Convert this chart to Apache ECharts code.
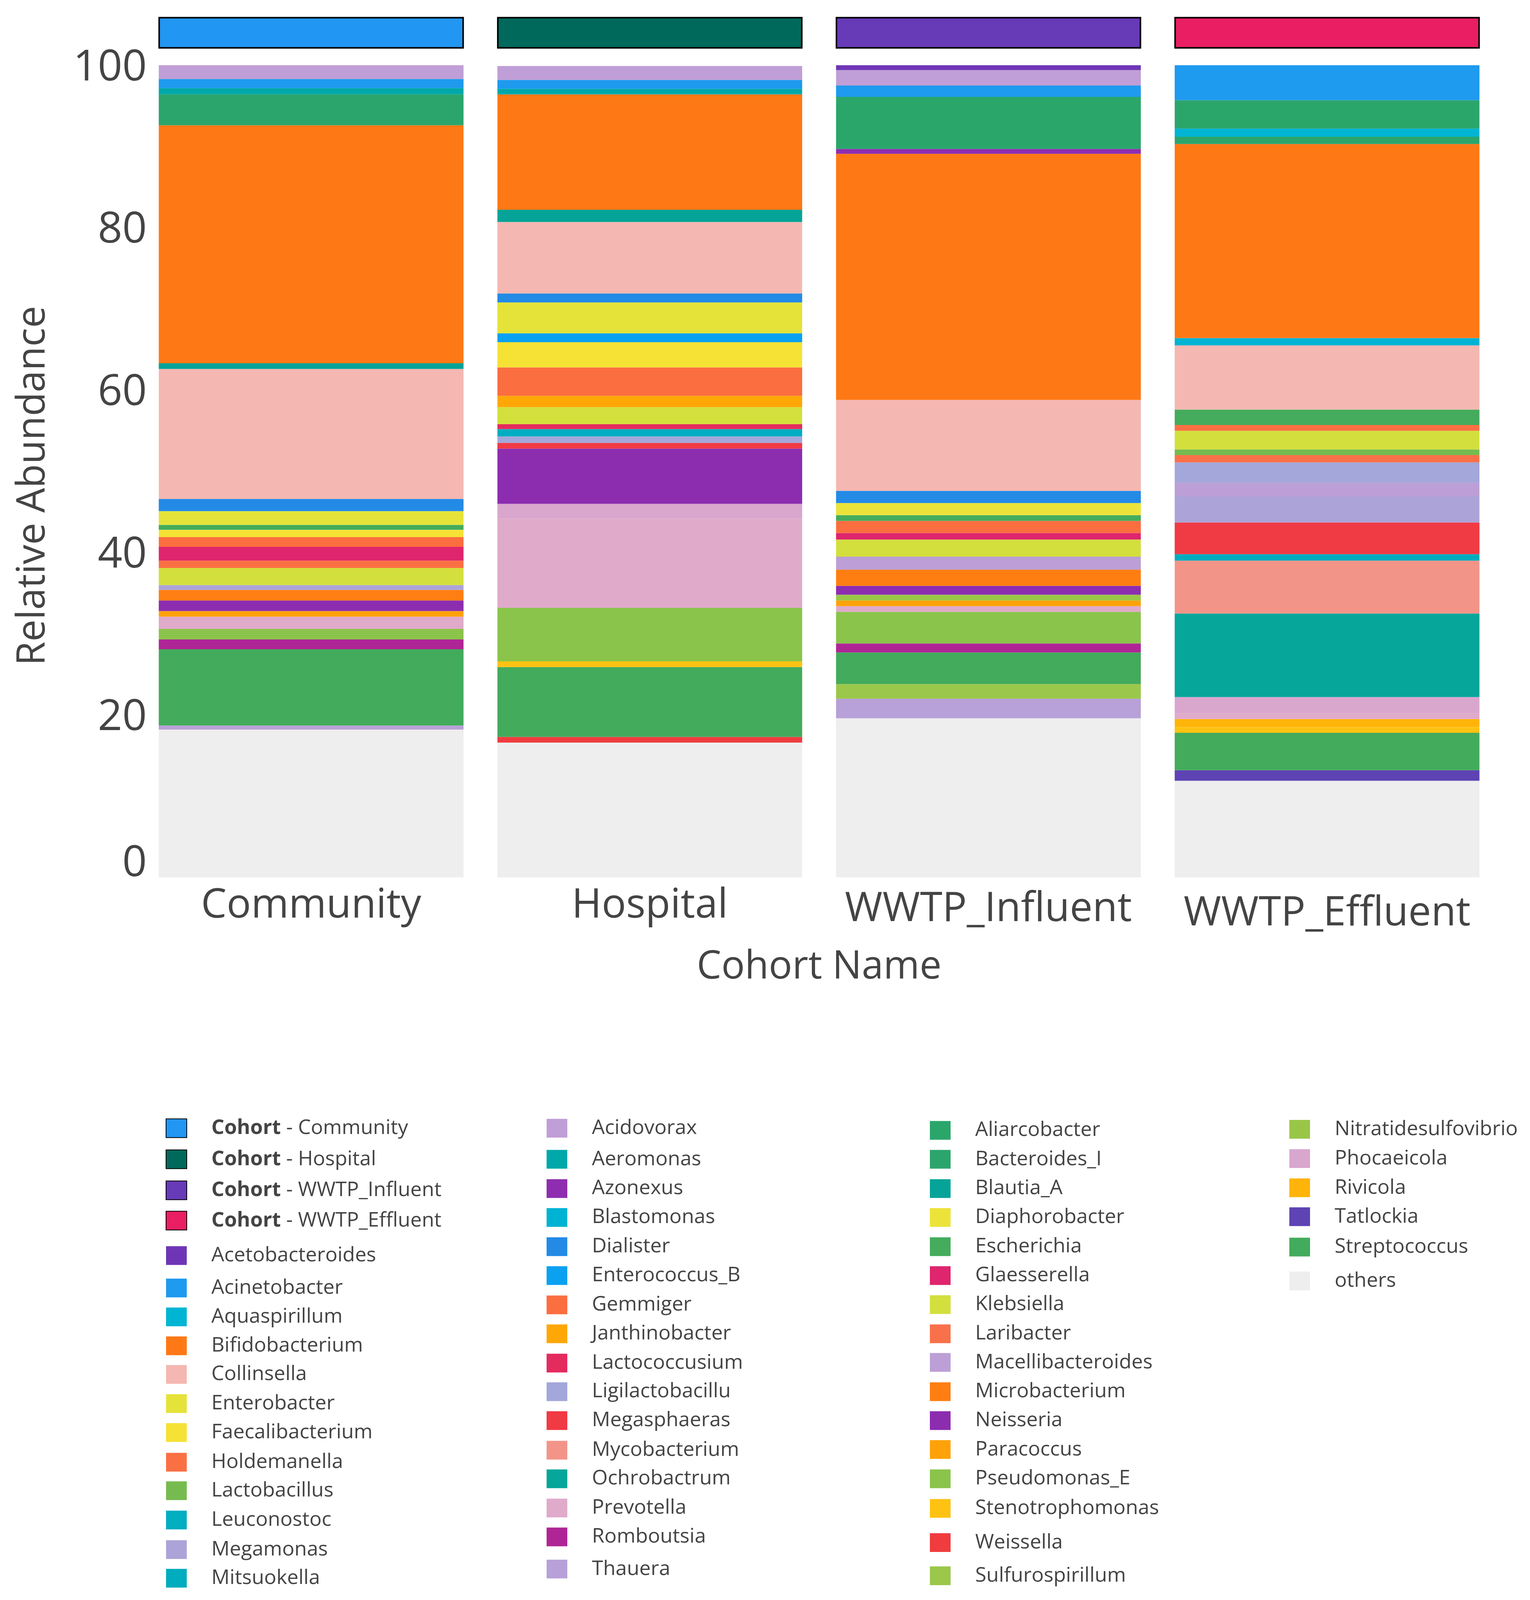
<!DOCTYPE html>
<html>
<head>
<meta charset="utf-8">
<script src="https://cdn.jsdelivr.net/npm/echarts@6/dist/echarts.min.js"></script>
<style>
html,body{margin:0;padding:0;background:#fff;overflow:hidden;}
#c{width:3916px;height:4537px;}
</style>
</head>
<body>
<div id="c"></div>
<script>
// ---------- data ----------
const cohorts = ['Community', 'Hospital', 'WWTP_Influent', 'WWTP_Effluent'];
const cohortColors = ['#2196F3', '#00695C', '#673AB7', '#E91E63'];

const genera = ['Acetobacteroides','Acidovorax','Acinetobacter','Aeromonas','Aliarcobacter','Aquaspirillum','Azonexus','Bacteroides_I','Bifidobacterium','Blastomonas','Blautia_A','Collinsella','Dialister','Diaphorobacter','Enterobacter','Enterococcus_B','Escherichia','Faecalibacterium','Gemmiger','Glaesserella','Holdemanella','Janthinobacter','Klebsiella','Lactobacillus','Lactococcusium','Laribacter','Leuconostoc','Ligilactobacillu','Macellibacteroides','Megamonas','Megasphaeras','Microbacterium','Mitsuokella','Mycobacterium','Neisseria','Nitratidesulfovibrio','Ochrobactrum','Paracoccus','Phocaeicola','Prevotella','Pseudomonas_E','Rivicola','Romboutsia','Stenotrophomonas','Streptococcus','Sulfurospirillum','Tatlockia','Thauera','Weissella','others'];

const genusColors = ['#6E36B6','#C09ED7','#1E9AEE','#00A8AA','#2BA66B','#00B4D4','#8E2DB0','#2CA56C','#FF7816','#00B3D3','#06A398','#F5B7B1','#238AE6','#ECE33A','#E5E339','#0AA1F1','#44AC5C','#F6E234','#FB6E3F','#DE256D','#FB7043','#FFA707','#D3DF3D','#76BB50','#E42B5E','#F9714A','#00ADC1','#A3A7DA','#BC9FD6','#ACA4D8','#F03A44','#FF7E12','#00ACBE','#F39489','#8C2DB0','#9AC648','#06A69A','#FFA20A','#D9A6CD','#E0AACB','#8AC44B','#FFB40A','#B02596','#FEC213','#43AB5C','#9BC74A','#5E43B4','#B8A0D8','#F03C3F','#EEEEEE'];

// relative abundance (%) per genus, in the order of `genera`
const community = [0,1.8,1.1,0.8,0,0,0,3.8,29.3,0,0.7,16.0,1.5,0,1.7,0,0.6,0.9,1.2,1.7,0.9,0,2.1,0,0,0,0,0,0,0.6,0,1.3,0,0,1.3,0,0,0.7,0,1.5,1.3,0,1.2,0,9.4,0,0,0.5,0,18.2];
const hospital  = [0,1.7,1.1,0.7,0,0,0,0,14.2,0,1.5,8.8,1.1,0,3.8,1.1,0,3.1,3.5,0,0,1.4,2.1,0,0.6,0,0.9,0.8,0,0,0.7,0,0,0,6.8,0,0,0,1.8,11.0,6.6,0,0,0.7,8.6,0,0,0,0.7,16.6];
const influent  = [0.7,1.9,1.4,0,6.4,0,0.6,0,30.3,0,0,11.2,1.5,1.5,0,0,0.7,0,1.5,0.8,0,0,2.1,0,0,0,0,0,1.6,0,0,2.0,0,0,1.1,0.7,0,0.7,0,0.7,3.9,0,1.1,0,3.9,1.8,0,2.4,0,19.6];
const effluent  = [0,0,4.5,0,3.5,1.0,0,0.9,23.9,0.9,0,7.9,0,0,0,0,1.9,0,0,0,0.7,0,2.3,0.7,0,0.9,0,2.5,1.7,3.2,3.9,0,0.8,6.5,0,0,10.3,0,2.0,0.7,0,1.0,0,0.7,4.6,0,1.3,0,0,11.9];

const yTickValues = [0, 20, 40, 60, 80, 100];

// legend columns (names)
const legendCohorts = cohorts.map(c => 'Cohort - ' + c);
const legendCol1 = ['Acetobacteroides','Acinetobacter','Aquaspirillum','Bifidobacterium','Collinsella','Enterobacter','Faecalibacterium','Holdemanella','Lactobacillus','Leuconostoc','Megamonas','Mitsuokella'];
const legendCol2 = ['Acidovorax','Aeromonas','Azonexus','Blastomonas','Dialister','Enterococcus_B','Gemmiger','Janthinobacter','Lactococcusium','Ligilactobacillu','Megasphaeras','Mycobacterium','Ochrobactrum','Prevotella','Romboutsia','Thauera'];
const legendCol3 = ['Aliarcobacter','Bacteroides_I','Blautia_A','Diaphorobacter','Escherichia','Glaesserella','Klebsiella','Laribacter','Macellibacteroides','Microbacterium','Neisseria','Paracoccus','Pseudomonas_E','Stenotrophomonas','Weissella','Sulfurospirillum'];
const legendCol4 = ['Nitratidesulfovibrio','Phocaeicola','Rivicola','Tatlockia','Streptococcus','others'];

// ---------- layout (design coordinates, 3916 x 4537) ----------
const legendLayout = [
  {names: legendCohorts, left: 424, rows: [3197, 3285, 3373, 3459], cohort: true},
  {names: legendCol1, left: 425, rows: [3558, 3650, 3732, 3814, 3895, 3978, 4060, 4144, 4225, 4308, 4392, 4473]},
  {names: legendCol2, left: 1399, rows: [3197, 3285, 3368, 3450, 3533, 3615, 3698, 3780, 3863, 3944, 4026, 4110, 4191, 4274, 4356, 4447]},
  {names: legendCol3, left: 2380, rows: [3203, 3285, 3368, 3450, 3533, 3615, 3697, 3780, 3861, 3944, 4026, 4108, 4191, 4275, 4372, 4466]},
  {names: legendCol4, left: 3300, rows: [3200, 3283, 3366, 3448, 3534, 3630]}
];

// ---------- chart ----------
const W = 3916;
const H = Math.min(4537, window.innerHeight || 4537);
const s = H / 4537;               // vertical scale to the real viewport
const Y = v => v * s;
const el = document.getElementById('c');
el.style.height = H + 'px';

const FONT = '"Open Sans", "Noto Sans", sans-serif';
const TXT = '#444444';
const chart = echarts.init(el, null, {renderer: 'canvas', width: W, height: H});

const values = [community, hospital, influent, effluent];
const stackOrder = ['others'].concat(genera.filter(g => g !== 'others').reverse());

const mainSeries = stackOrder.map(name => {
  const k = genera.indexOf(name);
  return {
    name: name, type: 'bar', stack: 'abund', barWidth: 780,
    xAxisIndex: 0, yAxisIndex: 0,
    itemStyle: {color: genusColors[k]},
    emphasis: {disabled: true},
    data: values.map(v => (v[k] > 0 ? v[k] : '-'))
  };
});

const stripSeries = cohorts.map((c, i) => ({
  name: 'Cohort - ' + c, type: 'bar', stack: 'strip', barWidth: 782,
  xAxisIndex: 1, yAxisIndex: 1,
  itemStyle: {color: cohortColors[i], borderColor: '#000000', borderWidth: 4},
  emphasis: {disabled: true},
  data: cohorts.map((cc, j) => (j === i ? 1 : '-'))
}));

const ICON = 53;
const LFS = 52;
const IH = Math.round(Y(ICON));
const LH = IH;
const legends = [];
legendLayout.forEach(col => {
  col.names.forEach((name, r) => {
    const lg = {
      orient: 'vertical', left: col.left, top: Y(col.rows[r]) - IH / 2,
      padding: 0, itemWidth: ICON, itemHeight: IH, itemGap: 0,
      icon: 'rect', selectedMode: false,
      data: [name],
      textStyle: {fontSize: LFS, lineHeight: LH, color: TXT, fontFamily: FONT, padding: [0, 0, 0, 58]}
    };
    if (col.cohort) {
      lg.formatter = n => '{b|Cohort}{n|' + n.slice(6) + '}';
      lg.textStyle.rich = {
        b: {fontSize: LFS, lineHeight: LH, color: TXT, fontFamily: FONT, fontWeight: 'bold'},
        n: {fontSize: LFS, lineHeight: LH, color: TXT, fontFamily: FONT}
      };
    }
    legends.push(lg);
  });
});

const option = {
  animation: false,
  backgroundColor: '#ffffff',
  textStyle: {fontFamily: FONT},
  grid: [
    {left: 363, top: Y(185), width: 3467, height: Y(2303)},
    {left: 363, top: Y(48), width: 3467, height: Y(90)}
  ],
  xAxis: [
    {
      type: 'category', gridIndex: 0, data: cohorts,
      axisLine: {show: false}, axisTick: {show: false}, splitLine: {show: false},
      axisLabel: {
        interval: 0, hideOverlap: false,
        margin: Y(23), color: TXT, fontFamily: FONT, fontSize: 104,
        formatter: (v, i) => '{c' + i + '|' + v + '}',
        rich: {
          c0: {fontSize: 104, color: TXT, fontFamily: FONT, lineHeight: 104},
          c1: {fontSize: 104, color: TXT, fontFamily: FONT, lineHeight: 104},
          c2: {fontSize: 104, color: TXT, fontFamily: FONT, lineHeight: 104 + Y(20)},
          c3: {fontSize: 104, color: TXT, fontFamily: FONT, lineHeight: 104 + Y(46)}
        }
      },
      name: 'Cohort Name', nameLocation: 'middle', nameGap: Y(200),
      nameTextStyle: {fontSize: 100, color: TXT, fontFamily: FONT}
    },
    {
      type: 'category', gridIndex: 1, data: cohorts, show: false
    }
  ],
  yAxis: [
    {
      type: 'value', gridIndex: 0, min: 0, max: 100, interval: 20, offset: -43,
      axisLine: {show: false}, axisTick: {show: false}, splitLine: {show: false},
      axisLabel: {
        margin: 30, color: TXT, fontFamily: FONT, fontSize: 110,
        formatter: v => (yTickValues.indexOf(v) === 0 ? '{z|' + v + '}' : '{n|' + v + '}'),
        rich: {
          z: {fontSize: 110, color: TXT, fontFamily: FONT, padding: [0, 0, Y(76), 0]},
          n: {fontSize: 110, color: TXT, fontFamily: FONT, padding: [Y(16), 0, 0, 0]}
        }
      },
      name: 'Relative Abundance', nameLocation: 'middle', nameGap: 270, nameRotate: 90,
      nameTextStyle: {fontSize: 100, color: TXT, fontFamily: FONT, padding: [0, Y(82), 0, 0]}
    },
    {
      type: 'value', gridIndex: 1, min: 0, max: 1, show: false
    }
  ],
  legend: legends,
  series: mainSeries.concat(stripSeries)
};
chart.setOption(option);
</script>
</body>
</html>
